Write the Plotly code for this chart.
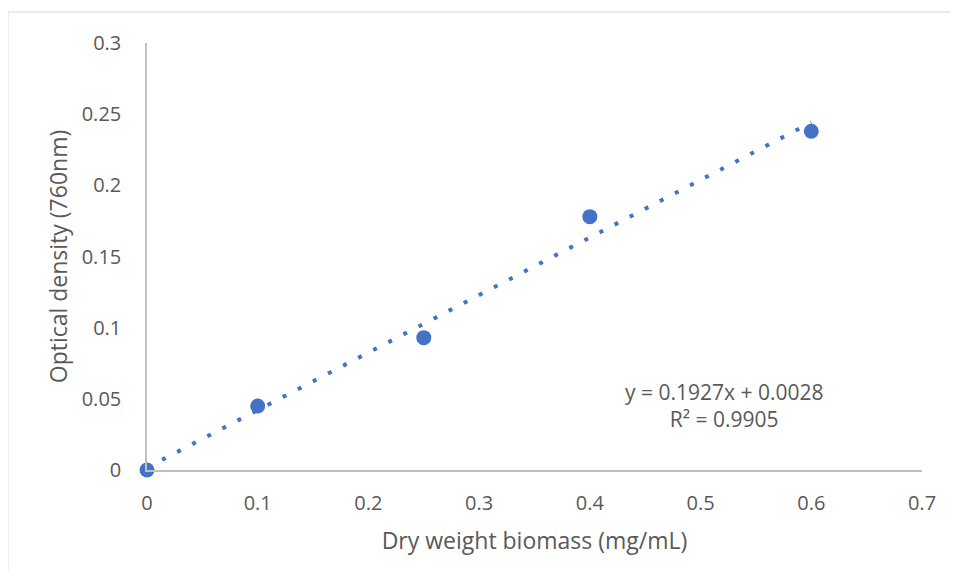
import numpy as np
import plotly.graph_objects as go

biomass = [0, 0.1, 0.25, 0.4, 0.6]
optical_density = [0, 0.045, 0.093, 0.178, 0.238]
equation_label = "y = 0.1927x + 0.0028<br>R² = 0.9905"
x_ticks = [0, 0.1, 0.2, 0.3, 0.4, 0.5, 0.6, 0.7]
y_ticks = [0, 0.05, 0.1, 0.15, 0.2, 0.25, 0.3]

# linear least-squares trendline from the data
fit_slope, fit_intercept = np.polyfit(biomass, optical_density, 1)
trend_x = [min(biomass), max(biomass)]
trend_y = [fit_slope * v + fit_intercept for v in trend_x]

FONT = "'Open Sans', Calibri, sans-serif"
BLUE = "#4472C4"
GREY = "#595959"

fig = go.Figure()
fig.add_trace(go.Scatter(x=trend_x, y=trend_y, mode="lines",
                         line=dict(color=BLUE, width=4, dash="4px,13px"),
                         hoverinfo="skip", showlegend=False, cliponaxis=False))
fig.add_trace(go.Scatter(x=biomass, y=optical_density, mode="markers",
                         marker=dict(color=BLUE, size=15), showlegend=False,
                         cliponaxis=False))

fig.add_annotation(x=0.521, y=0.0453, xref="x", yref="y",
                   text=equation_label,
                   showarrow=False, align="center",
                   font=dict(family=FONT, size=21, color=GREY))

# chart-area border (only top and left edges fall inside the window)
fig.add_shape(type="line", xref="paper", yref="paper",
              x0=-0.1794, x1=1.3, y0=1.0726, y1=1.0726,
              line=dict(color="#D9D9D9", width=1), layer="below")
fig.add_shape(type="line", xref="paper", yref="paper",
              x0=-0.1794, x1=-0.1794, y0=-0.6, y1=1.0726,
              line=dict(color="#D9D9D9", width=1), layer="below")

axis_common = dict(showgrid=False, zeroline=False, showline=True,
                   linecolor="#BFBFBF", linewidth=1.5, ticks="", automargin=False,
                   tickfont=dict(size=20, color=GREY))

fig.update_layout(
    width=942, height=562,
    margin=dict(l=139, r=28, t=35, b=100),
    plot_bgcolor="white", paper_bgcolor="white",
    font=dict(family=FONT, size=20, color=GREY),
    xaxis=dict(range=[0, 0.7], tickvals=x_ticks, ticktext=[str(v) for v in x_ticks],
               ticklabelstandoff=14,
               title=dict(text="Dry weight biomass (mg/mL)", font=dict(size=23, color=GREY), standoff=18),
               **axis_common),
    yaxis=dict(range=[0, 0.3], tickvals=y_ticks, ticktext=[str(v) for v in y_ticks],
               ticklabelstandoff=20,
               title=dict(text="Optical density (760nm)", font=dict(size=23, color=GREY), standoff=8),
               **axis_common),
)
fig.write_html("out.html")
